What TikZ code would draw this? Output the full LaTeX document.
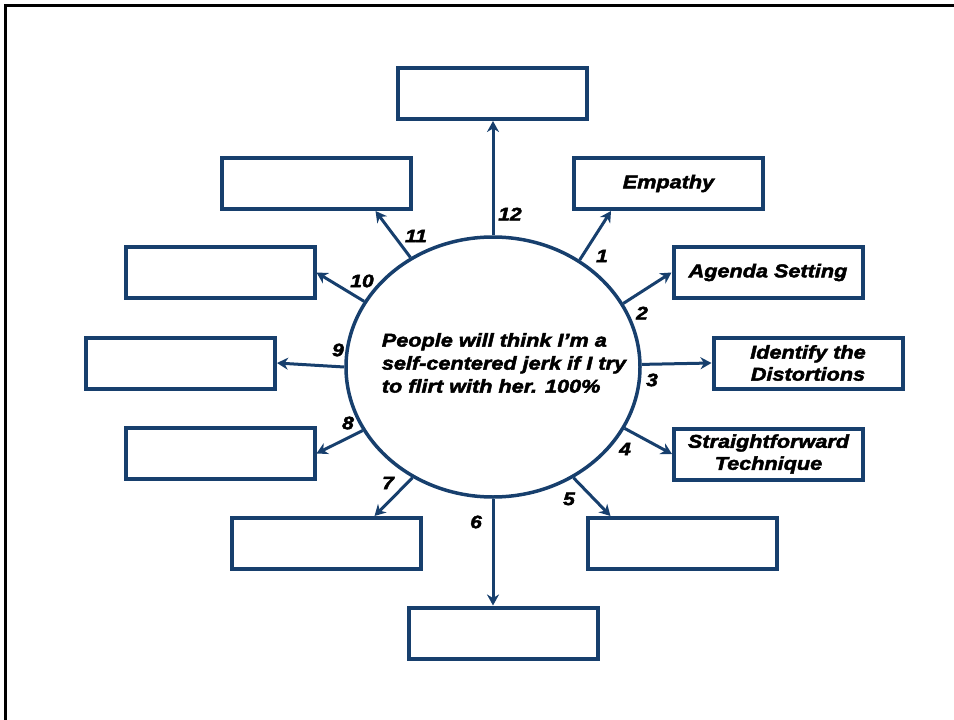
\documentclass[tikz,border=0pt]{standalone}
\usepackage{fontspec}
\setmainfont{Liberation Sans}
\newfontfamily\heavy[FakeStretch=1.17,FakeBold=2.5]{Liberation Sans}
\usetikzlibrary{arrows.meta,shapes.geometric,calc}
\definecolor{navy}{HTML}{173F6D}
\begin{document}
\begin{tikzpicture}[x=1pt,y=-1pt,
  box/.style={draw=navy,line width=4pt,minimum width=189pt,minimum height=51pt,inner sep=0pt,
    font=\fontsize{18.5}{22}\heavy\bfseries\itshape,align=center},
  hub/.style={draw=navy,line width=3.5pt,ellipse,minimum width=294pt,minimum height=260pt,inner sep=0pt},
  conn/.style={draw=navy,line width=3pt,-{Stealth[length=11pt,width=12pt,inset=3.5pt]}},
  num/.style={font=\fontsize{18}{20}\heavy\bfseries\itshape,inner sep=0pt}]
\useasboundingbox (0,0) rectangle (954,720);
\begin{scope}
\clip (0,0) rectangle (954,720);
\draw[line width=3pt,black] (5,5) rectangle (980,760);
\end{scope}
\node[hub] (c) at (493,367) {};
\node[font=\fontsize{18.5}{23}\heavy\bfseries\itshape,align=left,inner sep=0pt] (ct) at (504,363)
  {People will think I’m a\\self-centered jerk if I try\\to flirt with her. 100\%};
\node[box] (b12) at (492,93.5) {};
\node[box] (b11) at (316,183.5) {};
\node[box] (b1) at (668.5,183.5) {Empathy};
\node[box] (b10) at (220,272.5) {};
\node[box] (b2) at (768,272.5) {Agenda Setting};
\node[box] (b9) at (180.5,363) {};
\node[box] (b3) at (808,363) {Identify the\\Distortions};
\node[box] (b8) at (220,453.5) {};
\node[box] (b4) at (768.5,454) {Straightforward\\Technique};
\node[box] (b7) at (326,543.5) {};
\node[box] (b5) at (682,543.5) {};
\node[box] (b6) at (503.5,633) {};
\coordinate (t1) at ($(b1.south west)+(39,0)$);
\coordinate (t5) at ($(b5.north west)+(25,0)$);
\coordinate (t7) at ($(b7.north east)+(-48,0)$);
\coordinate (t11) at ($(b11.south east)+(-37,0)$);
\coordinate (t12) at ($(b12.south)+(1,0)$);
\coordinate (t6) at ($(b6.north)+(-10.5,0)$);
\draw[conn] (c.90) -- (t12);
\draw[conn] (c.51) -- (t1);
\draw[conn] (c.26.4) -- (b2.west);
\draw[conn] (c.1) -- (b3.west);
\draw[conn] (c.-25.3) -- (b4.west);
\draw[conn] (c.-54.8) -- (t5);
\draw[conn] (c.270) -- (t6);
\draw[conn] (c.234.3) -- (t7);
\draw[conn] (c.206.2) -- (b8.east);
\draw[conn] (c.180.4) -- (b9.east);
\draw[conn] (c.153.3) -- (b10.east);
\draw[conn] (c.127.9) -- (t11);
\node[num] (n12) at (510,214) {12};
\node[num] (n1) at (602,256) {1};
\node[num] (n2) at (642,313) {2};
\node[num] (n3) at (652,380) {3};
\node[num] (n4) at (625,449) {4};
\node[num] (n5) at (569,499) {5};
\node[num] (n6) at (476,522) {6};
\node[num] (n7) at (388,483) {7};
\node[num] (n8) at (348,423) {8};
\node[num] (n9) at (338,350) {9};
\node[num] (n10) at (362,281) {10};
\node[num] (n11) at (416,236) {11};
\end{tikzpicture}
\end{document}
